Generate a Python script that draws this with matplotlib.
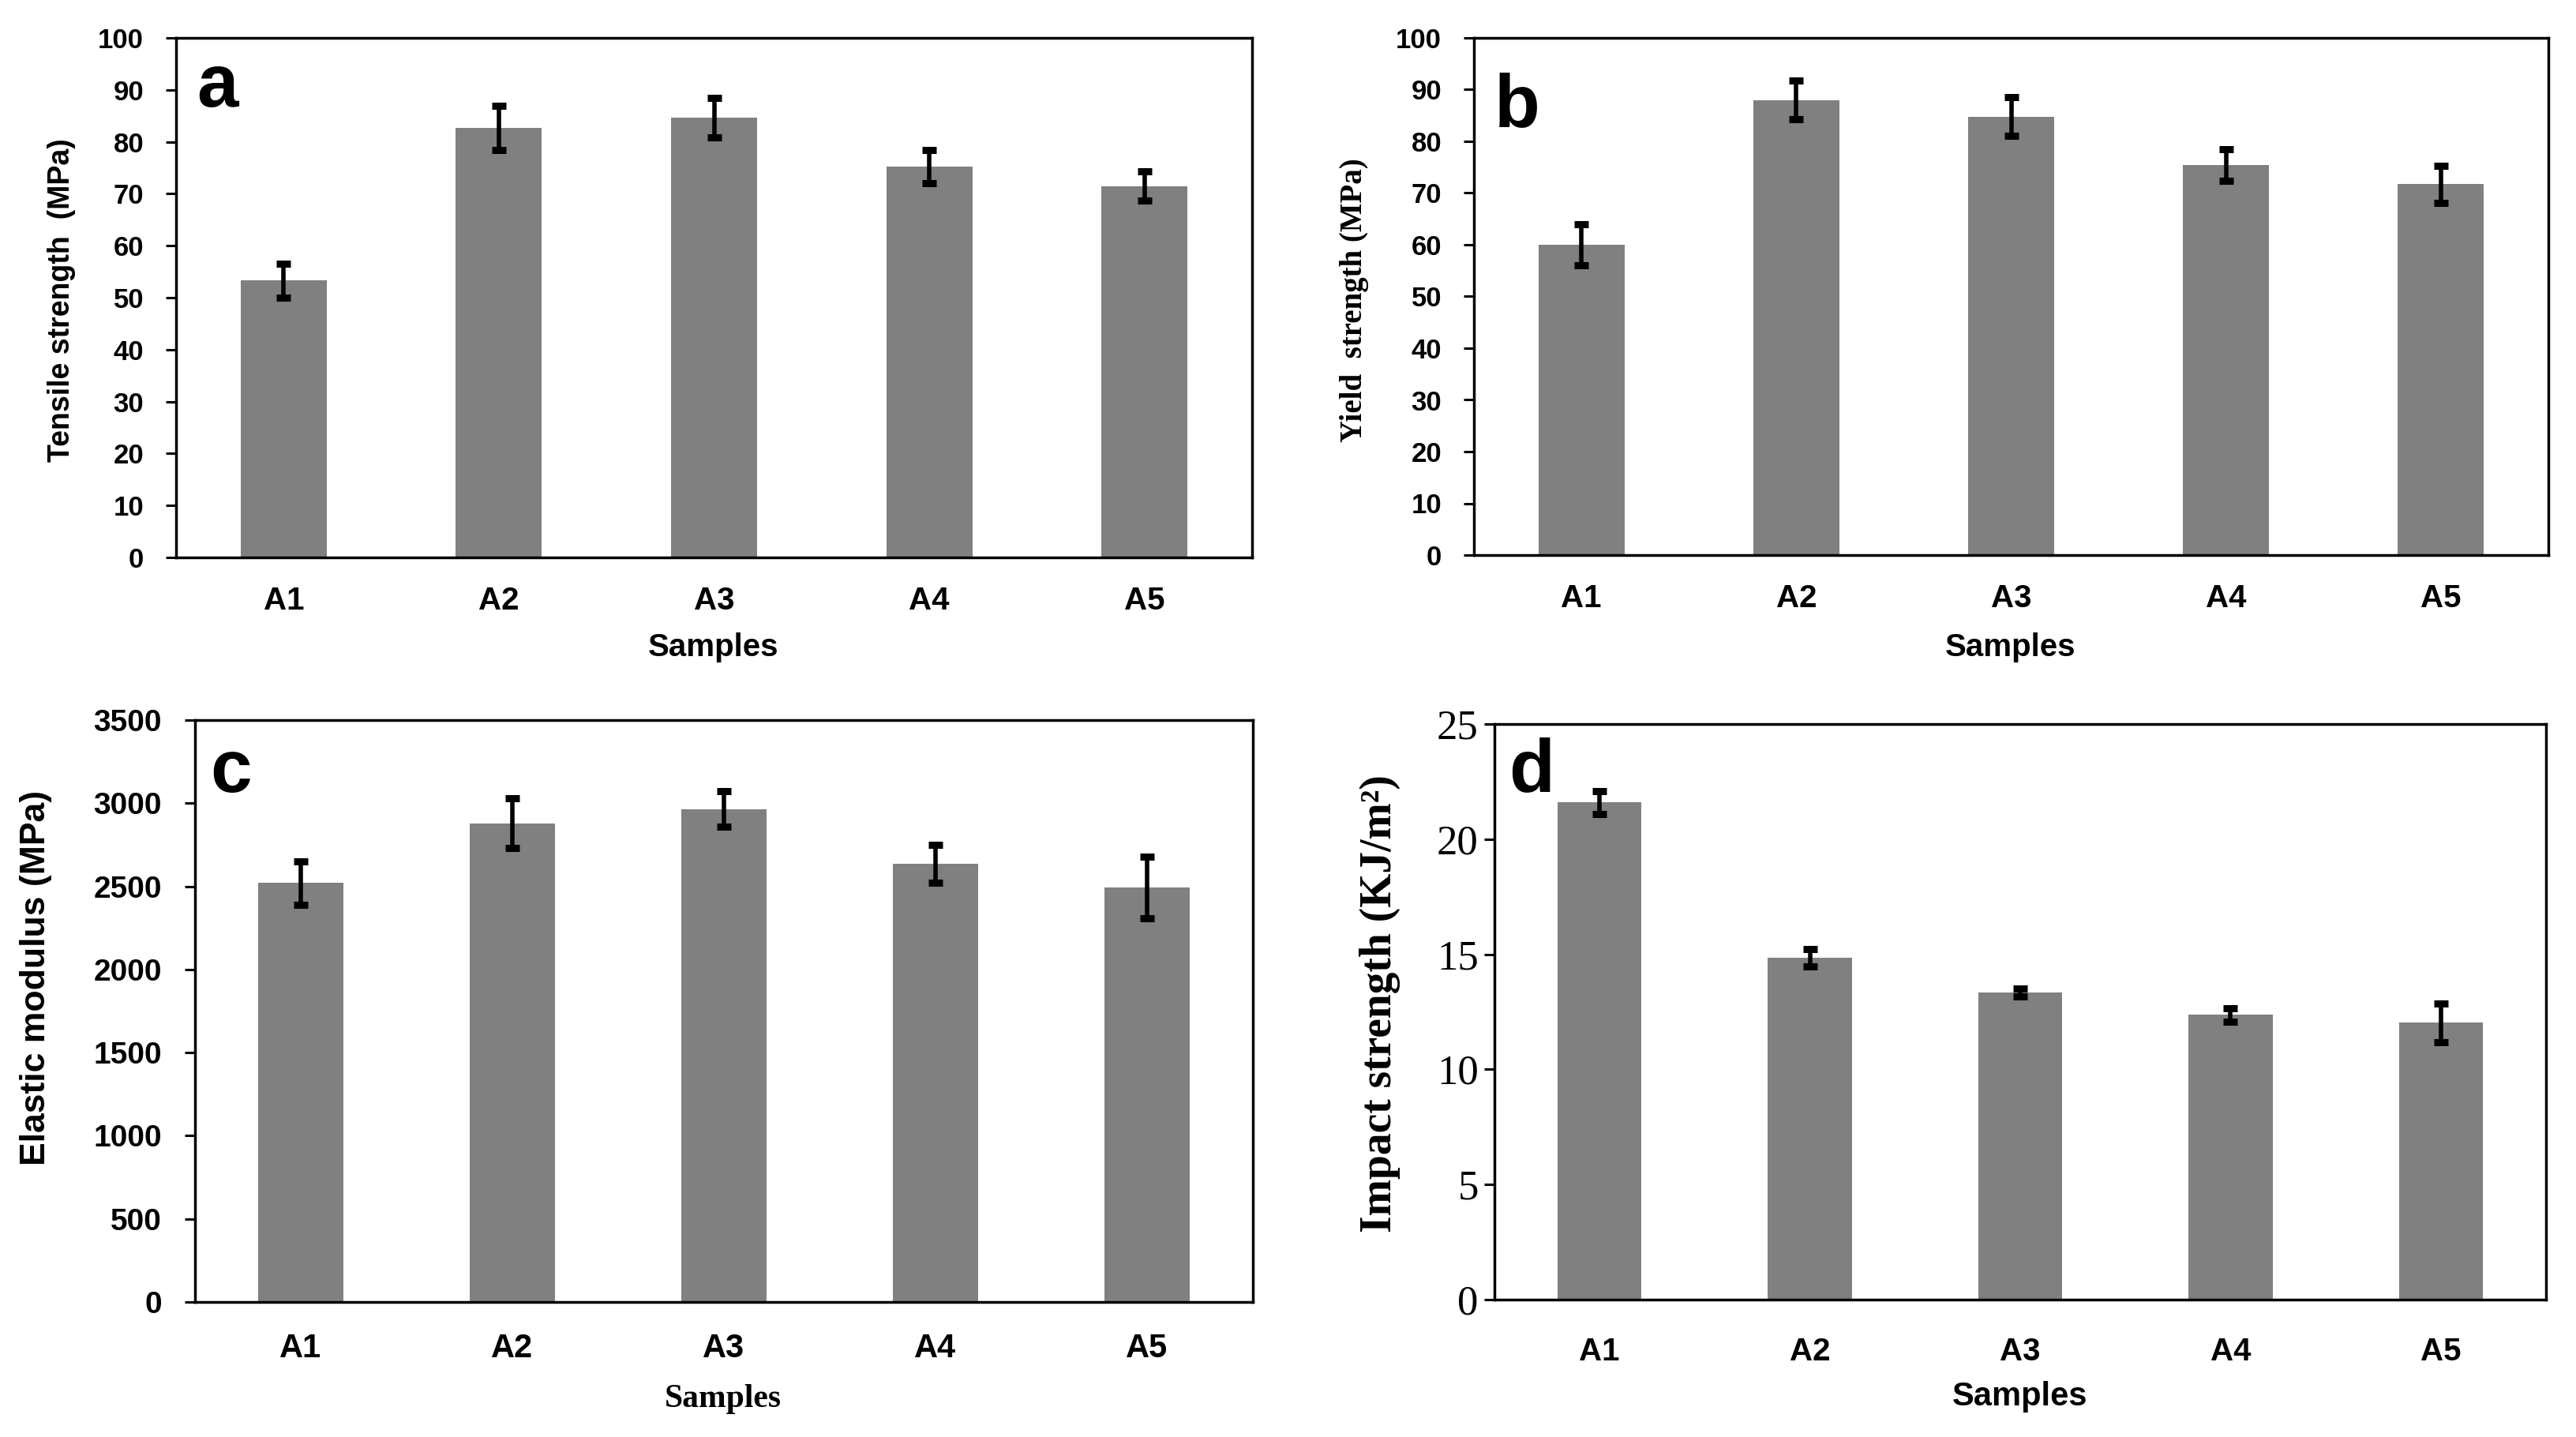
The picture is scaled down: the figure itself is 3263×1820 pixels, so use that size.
import matplotlib
matplotlib.use("Agg")
import matplotlib.pyplot as plt
import numpy as np

samples = ['A1', 'A2', 'A3', 'A4', 'A5']
tensile = [53.3, 82.7, 84.6, 75.2, 71.5]
tensile_err = [3.3, 4.3, 3.8, 3.2, 2.8]
yield_s = [60.0, 88.0, 84.8, 75.4, 71.7]
yield_err = [4.0, 3.7, 3.8, 3.1, 3.6]
modulus = [2520, 2880, 2965, 2637, 2492]
modulus_err = [130, 150, 107, 115, 185]
impact = [21.6, 14.86, 13.34, 12.37, 12.02]
impact_err = [0.5, 0.38, 0.18, 0.3, 0.83]

W, H = 3263, 1820
DPI = 100
fig = plt.figure(figsize=(W / DPI, H / DPI), dpi=DPI)
fig.patch.set_facecolor('white')

SANS = 'Liberation Sans'
SERIF = 'Liberation Serif'
BAR = '#808080'


def rect(l, r, t, b):
    return [l / W, 1 - b / H, (r - l) / W, (b - t) / H]


def fx(x):
    return x / W


def fy(y):
    return 1 - y / H


def panel(box, vals, errs, ymax, step, tick_font, tick_size, tick_weight,
          ypad, xsize, xpad):
    ax = fig.add_axes(box)
    x = np.arange(len(samples))
    ax.bar(x, vals, width=0.4, color=BAR, zorder=2)
    ax.errorbar(x, vals, yerr=errs, fmt='none', ecolor='black',
                elinewidth=4, capsize=6.5, capthick=6.5, zorder=3)
    ax.set_xlim(-0.5, len(samples) - 0.5)
    ax.set_ylim(0, ymax)
    ax.set_yticks(np.arange(0, ymax + step / 2, step))
    ax.set_xticks(x)
    ax.set_xticklabels(samples, fontfamily=SANS, fontweight='bold',
                       fontsize=xsize)
    for lab in ax.get_yticklabels():
        lab.set_fontfamily(tick_font)
        lab.set_fontweight(tick_weight)
        lab.set_fontsize(tick_size)
    ax.tick_params(axis='y', direction='out', length=9.5, width=2.2,
                   pad=ypad, colors='black')
    ax.tick_params(axis='x', length=0, pad=xpad)
    for sp in ax.spines.values():
        sp.set_linewidth(2.5)
        sp.set_color('black')
    return ax


# Panel a
panel(rect(223, 1586, 48, 706), tensile, tensile_err, 100, 10,
      SANS, 25, 'bold', 20, 29, 26)
# Panel b
panel(rect(1867, 3228, 48, 703), yield_s, yield_err, 100, 10,
      SANS, 25, 'bold', 20, 29, 26)
# Panel c
panel(rect(247, 1587, 912, 1649), modulus, modulus_err, 3500, 500,
      SANS, 28, 'bold', 21, 30, 28)
# Panel d
panel(rect(1893, 3225, 917, 1646), impact, impact_err, 25, 5,
      SERIF, 38, 'normal', 5, 29, 34)

# Panel letters
for letter, px, py in [('a', 249, 135), ('b', 1893, 160),
                       ('c', 266, 1003), ('d', 1911, 1002)]:
    fig.text(fx(px), fy(py), letter, fontfamily=SANS, fontweight='bold',
             fontsize=68, ha='left', va='baseline')

# Y labels
fig.text(fx(78), fy(380), 'Tensile strength  (MPa)', rotation=90,
         ha='center', va='center', fontfamily=SANS, fontweight='bold',
         fontsize=27)
fig.text(fx(1715), fy(380), 'Yield  strength (MPa)', rotation=90,
         ha='center', va='center', fontfamily=SERIF, fontweight='bold',
         fontsize=28)
fig.text(fx(45), fy(1238), 'Elastic modulus (MPa)', rotation=90,
         ha='center', va='center', fontfamily=SANS, fontweight='bold',
         fontsize=32)
fig.text(fx(1748), fy(1271), 'Impact strength (KJ/m\u00b2)', rotation=90,
         ha='center', va='center', fontfamily=SERIF, fontweight='bold',
         fontsize=40)

# X labels
fig.text(fx(904), fy(831), 'Samples', ha='center', va='baseline',
         fontfamily=SANS, fontweight='bold', fontsize=29)
fig.text(fx(2547), fy(831), 'Samples', ha='center', va='baseline',
         fontfamily=SANS, fontweight='bold', fontsize=29)
fig.text(fx(916), fy(1782), 'Samples', ha='center', va='baseline',
         fontfamily=SERIF, fontweight='bold', fontsize=30)
fig.text(fx(2559), fy(1780), 'Samples', ha='center', va='baseline',
         fontfamily=SANS, fontweight='bold', fontsize=30)

fig.savefig('out.png', dpi=DPI, facecolor='white')
